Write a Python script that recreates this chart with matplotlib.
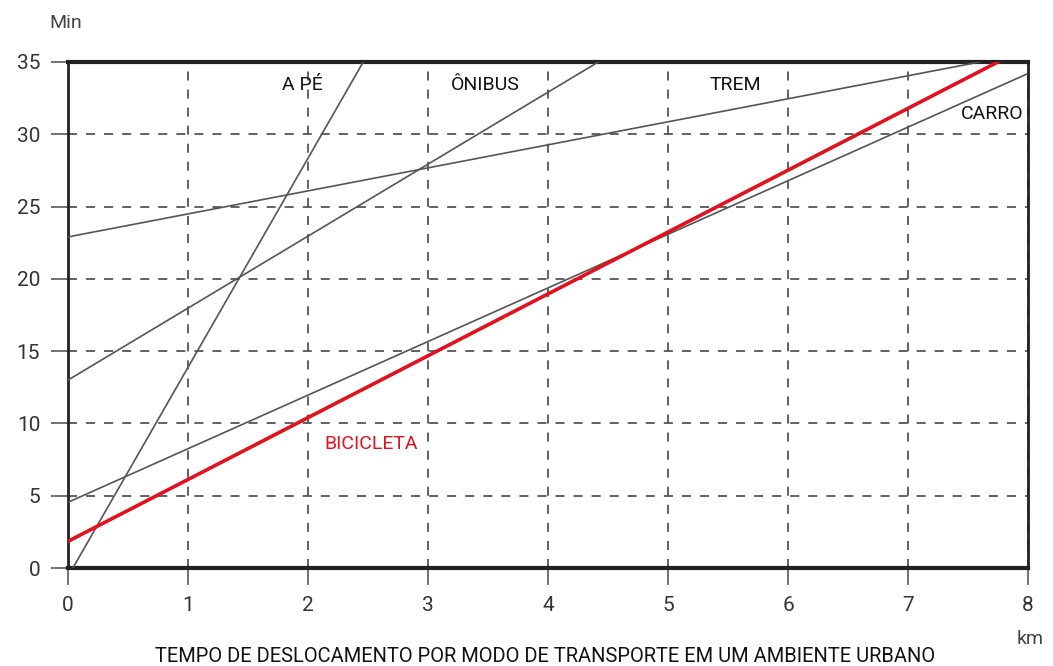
import matplotlib.pyplot as plt

# distancia (km) e tempo (min) nos extremos de cada reta
modos = ['A PÉ', 'ÔNIBUS', 'TREM', 'CARRO', 'BICICLETA']
km_ini = [0.04, 0, 0, 0, 0]
min_ini = [0, 13, 22.9, 4.55, 1.85]
km_fim = [2.46, 4.42, 7.6, 8, 7.75]
min_fim = [35, 35, 35, 34.2, 35]
cores = ['#555555', '#555555', '#555555', '#555555', '#e3101e']

x_ticks = [0, 1, 2, 3, 4, 5, 6, 7, 8]
y_ticks = [0, 5, 10, 15, 20, 25, 30, 35]

plt.rcParams['font.family'] = ['Roboto', 'DejaVu Sans']

fig = plt.figure(figsize=(10.53, 6.66), dpi=100)
ax = fig.add_axes([0.0646, 0.147, 0.9117, 0.76])

for i in range(len(modos)):
    lw = 2.6 if modos[i] == 'BICICLETA' else 1.2
    ax.plot([km_ini[i], km_fim[i]], [min_ini[i], min_fim[i]], color=cores[i], lw=lw, zorder=3)

ax.set_xlim(0, 8)
ax.set_ylim(0, 35)
ax.set_xticks(x_ticks)
ax.set_yticks(y_ticks)
ax.grid(True, color='#555555', linestyle=(0, (5, 5)), linewidth=1.3)
ax.tick_params(direction='out', length=12, width=1.3, color='#666666', labelsize=15, labelcolor='#333333', pad=8)
for s in ax.spines.values():
    s.set_linewidth(2)
    s.set_color('#222222')
ax.spines['top'].set_linewidth(3)
ax.spines['bottom'].set_linewidth(3)

# rotulos das retas
ax.text(1.95, 33.4, 'A PÉ', ha='center', va='center', fontsize=14, color='#111111')
ax.text(3.48, 33.4, 'ÔNIBUS', ha='center', va='center', fontsize=14, color='#111111')
ax.text(5.56, 33.4, 'TREM', ha='center', va='center', fontsize=14, color='#111111')
ax.text(7.7, 31.4, 'CARRO', ha='center', va='center', fontsize=14, color='#111111')
ax.text(2.525, 8.6, 'BICICLETA', ha='center', va='center', fontsize=14, color='#e3101e')

fig.text(0.062, 0.965, 'Min', ha='center', va='center', fontsize=14, color='#444444')
fig.text(0.978, 0.04, 'km', ha='center', va='center', fontsize=14, color='#444444')
fig.text(0.518, 0.014, 'TEMPO DE DESLOCAMENTO POR MODO DE TRANSPORTE EM UM AMBIENTE URBANO',
         ha='center', va='center', fontsize=14.5, color='#111111')

fig.savefig('out.png', dpi=100)
